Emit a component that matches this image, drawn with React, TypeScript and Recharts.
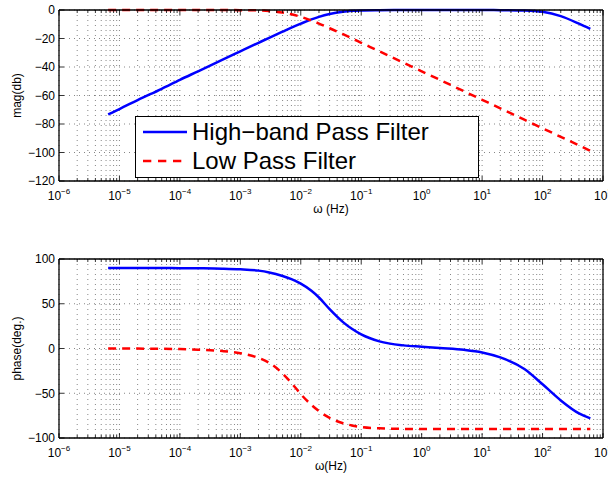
import React from 'react'
import { LineChart, Line, XAxis, YAxis, CartesianGrid } from 'recharts'

// sample frequencies (Hz) the curves were read at
const FREQ = [6.5e-6, 1e-5, 2e-5, 5e-5, 1e-4, 2e-4, 5e-4, 1e-3, 2e-3, 3e-3, 5e-3, 7e-3, 1e-2, 1.5e-2, 2e-2, 3e-2, 5e-2, 7e-2, 0.1, 0.2, 0.5, 1, 2, 5, 10, 20, 50, 100, 200, 400, 617]
const HB_MAG = [-73.2, -69.5, -63.2, -55.3, -49, -43, -35, -29, -23, -19.5, -15.2, -12.4, -9.6, -6.6, -4.8, -2.8, -1.2, -0.6, -0.3, -0.1, 0, 0, 0, 0, 0, -0.1, -0.4, -1.3, -4.3, -9.6, -13.3]
const LP_MAG = [0, 0, 0, 0, 0, 0, 0, -0.1, -0.3, -0.7, -1.8, -3, -4.8, -7.4, -9.5, -12.8, -17, -19.9, -23, -29, -37, -43, -49, -57, -63, -69, -77, -83, -89, -95, -98.8]
const HB_PHASE = [90, 90, 90, 89.9, 89.8, 89.6, 89.2, 88.5, 87, 85, 81, 77.5, 72.5, 64.5, 57, 44, 29.5, 22, 15.8, 8, 3.5, 2, 0.5, -1.5, -4.4, -10, -23, -40, -58, -72.5, -78]
const LP_PHASE = [0, 0, -0.1, -0.3, -0.6, -1.3, -2.8, -5.3, -10.5, -16, -28, -38.5, -51, -63, -70, -77.5, -83.5, -86, -87.7, -89.2, -89.8, -90, -90, -90, -90, -90, -90, -90, -90, -90, -90]

const DECADES = [-6, -5, -4, -3, -2, -1, 0, 1, 2, 3]
const MINOR = [1, 2, 3, 4, 5, 6, 7, 8, 9]
const MAG_TICKS = [-120, -100, -80, -60, -40, -20, 0]
const PHASE_TICKS = [-100, -50, 0, 50, 100]
const SERIES = ['High\u2212band Pass Filter', 'Low Pass Filter']
const COLORS = ['#0000ff', '#ff0000']

const FREQ_TICKS = DECADES.flatMap((d, i) => (i === DECADES.length - 1 ? [10 ** d] : MINOR.map(m => m * 10 ** d)))

const magData = FREQ.map((f, i) => ({ f, hb: HB_MAG[i], lp: LP_MAG[i] }))
const phaseData = FREQ.map((f, i) => ({ f, hb: HB_PHASE[i], lp: LP_PHASE[i] }))

const FONT = '"Liberation Sans", Arial, Helvetica, sans-serif'
const minus = (s: string) => s.replace('-', '\u2212')
const isDecade = (v: number) => Math.abs(Math.log10(v) - Math.round(Math.log10(v))) < 1e-6

function BottomTick(props: any) {
  const { x, y, payload } = props
  const major = isDecade(payload.value)
  const e = Math.round(Math.log10(payload.value))
  return (
    <g>
      <line x1={x} x2={x} y1={y} y2={y - (major ? 5 : 3)} stroke="#000" strokeWidth={0.8} />
      {major && (
        <text x={x} y={y + 18.5} textAnchor="middle" fontSize={12} fill="#000" fontFamily={FONT}>
          <tspan>10</tspan>
          <tspan dy={-6} fontSize={8}>{minus(String(e))}</tspan>
        </text>
      )}
    </g>
  )
}

function TopTick(props: any) {
  const { x, y, payload } = props
  const major = isDecade(payload.value)
  return <line x1={x} x2={x} y1={y} y2={y + (major ? 5 : 3)} stroke="#000" strokeWidth={0.8} />
}

function LeftTick(props: any) {
  const { x, y, payload } = props
  return (
    <g>
      <line x1={x} x2={x + 5} y1={y} y2={y} stroke="#000" strokeWidth={0.8} />
      <text x={x - 4} y={y} dy="0.36em" textAnchor="end" fontSize={12} fill="#000" fontFamily={FONT}>
        {minus(String(payload.value))}
      </text>
    </g>
  )
}

function RightTick(props: any) {
  const { x, y } = props
  return <line x1={x} x2={x - 5} y1={y} y2={y} stroke="#000" strokeWidth={0.8} />
}

function XTitle(props: any) {
  const { viewBox, text } = props
  return (
    <text x={viewBox.x + viewBox.width / 2} y={viewBox.y + 32} textAnchor="middle" fontSize={12} fill="#000" fontFamily={FONT}>
      {text}
    </text>
  )
}

function YTitle(props: any) {
  const { viewBox, text } = props
  const cx = 17
  const cy = viewBox.y + viewBox.height / 2
  return (
    <text x={cx} y={cy} dy="0.36em" transform={`rotate(-90, ${cx}, ${cy})`} textAnchor="middle" fontSize={12} fill="#000" fontFamily={FONT}>
      {text}
    </text>
  )
}

// axes get 1px of room (an axis of size 0 is not drawn), margins take 1px less
function Panel({ data, height, margin, yTicks, xTitle, yTitle }: any) {
  const yDomain = [yTicks[0], yTicks[yTicks.length - 1]]
  const axisLine = { stroke: '#000', strokeWidth: 1.3 }
  return (
    <LineChart width={608} height={height} data={data} margin={margin}>
      <CartesianGrid xAxisId="b" yAxisId="l" stroke="#000" strokeOpacity={0.6} strokeWidth={0.8} strokeDasharray="1 4" />
      <XAxis xAxisId="b" dataKey="f" type="number" scale="log" domain={[1e-6, 1e3]} allowDataOverflow ticks={FREQ_TICKS} interval={0}
        height={1} tickSize={0} tickMargin={0} tickLine={false} axisLine={axisLine} tick={<BottomTick />} label={<XTitle text={xTitle} />} />
      <XAxis xAxisId="t" orientation="top" dataKey="f" type="number" scale="log" domain={[1e-6, 1e3]} allowDataOverflow ticks={FREQ_TICKS} interval={0}
        height={1} tickSize={0} tickMargin={0} tickLine={false} axisLine={axisLine} tick={<TopTick />} />
      <YAxis yAxisId="l" type="number" domain={yDomain} ticks={yTicks} interval={0} width={59}
        tickSize={0} tickMargin={0} tickLine={false} axisLine={axisLine} tick={<LeftTick />} label={<YTitle text={yTitle} />} />
      <YAxis yAxisId="r" orientation="right" type="number" domain={yDomain} ticks={yTicks} interval={0} width={1}
        tickSize={0} tickMargin={0} tickLine={false} axisLine={axisLine} tick={<RightTick />} />
      <Line xAxisId="b" yAxisId="l" type="monotone" dataKey="hb" stroke={COLORS[0]} strokeWidth={2.5} dot={false} isAnimationActive={false} />
      <Line xAxisId="b" yAxisId="l" type="monotone" dataKey="lp" stroke={COLORS[1]} strokeWidth={2.5} strokeDasharray="8 6" dot={false} isAnimationActive={false} />
    </LineChart>
  )
}

function FilterLegend() {
  return (
    <div style={{ position: 'absolute', left: 135, top: 116, width: 344, height: 62, border: '1.5px solid #000', background: '#fff', boxSizing: 'border-box' }}>
      {SERIES.map((name, i) => (
        <div key={name} style={{ position: 'absolute', left: 7, top: (i === 0 ? 16 : 45) - 15, height: 28, display: 'flex', alignItems: 'center' }}>
          <svg width={44} height={28}>
            <line x1={0} x2={44} y1={14} y2={14} stroke={COLORS[i]} strokeWidth={2.5} strokeDasharray={i === 1 ? '8.3 6.7' : undefined} />
          </svg>
          <span style={{ marginLeft: 5, fontSize: 24, lineHeight: '28px', color: '#000', whiteSpace: 'nowrap' }}>{name}</span>
        </div>
      ))}
    </div>
  )
}

export default function App() {
  return (
    <div style={{ position: 'absolute', left: 0, top: 0, width: 608, height: 477, background: '#fff', fontFamily: FONT }}>
      <div style={{ position: 'absolute', left: 0, top: 0 }}>
        <Panel data={magData} height={240} margin={{ top: 9, right: 4, bottom: 58, left: 0 }} yTicks={MAG_TICKS} xTitle={'\u03c9 (Hz)'} yTitle="mag(db)" />
      </div>
      <div style={{ position: 'absolute', left: 0, top: 240 }}>
        <Panel data={phaseData} height={237} margin={{ top: 18, right: 4, bottom: 38, left: 0 }} yTicks={PHASE_TICKS} xTitle={'\u03c9(Hz)'} yTitle="phase(deg.)" />
      </div>
      <FilterLegend />
    </div>
  )
}
